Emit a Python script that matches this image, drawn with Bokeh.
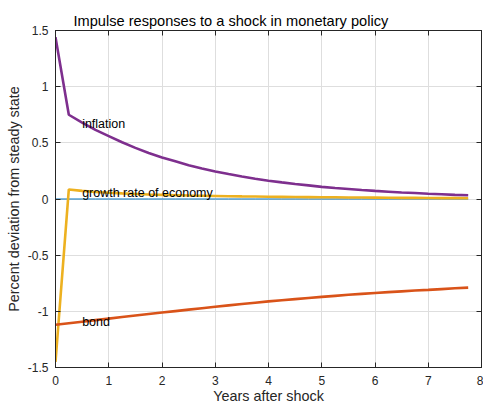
from bokeh.plotting import figure
from bokeh.models import Range1d, FixedTicker, LinearAxis, Label
from bokeh.embed import file_html
from bokeh.resources import INLINE

years = [0.0, 0.25, 0.5, 0.75, 1.0, 1.25, 1.5, 1.75, 2.0, 2.25, 2.5, 2.75,
         3.0, 3.25, 3.5, 3.75, 4.0, 4.25, 4.5, 4.75, 5.0, 5.25, 5.5, 5.75,
         6.0, 6.25, 6.5, 6.75, 7.0, 7.25, 7.5, 7.75]

inflation = [1.44, 0.75, 0.68, 0.615, 0.56, 0.505, 0.455, 0.41, 0.37, 0.335,
             0.30, 0.272, 0.245, 0.222, 0.20, 0.18, 0.163, 0.148, 0.134, 0.121,
             0.108, 0.098, 0.089, 0.080, 0.072, 0.065, 0.058, 0.053, 0.047,
             0.042, 0.037, 0.033]

growth = [-1.45, 0.085, 0.072, 0.063, 0.056, 0.050, 0.045, 0.040, 0.037, 0.034,
          0.031, 0.029, 0.027, 0.025, 0.023, 0.022, 0.020, 0.019, 0.018, 0.017,
          0.016, 0.015, 0.014, 0.013, 0.012, 0.011, 0.010, 0.010, 0.009, 0.008,
          0.008, 0.007]

bond = [-1.120, -1.106, -1.092, -1.078, -1.065, -1.051, -1.037, -1.024, -1.011,
        -0.998, -0.985, -0.972, -0.959, -0.947, -0.935, -0.923, -0.911, -0.901,
        -0.891, -0.881, -0.871, -0.862, -0.853, -0.845, -0.837, -0.829, -0.822,
        -0.815, -0.809, -0.802, -0.795, -0.789]

steady_state = [0.0] * len(years)

series_names = ["inflation", "growth rate of economy", "bond"]
x_ticks = [0, 1, 2, 3, 4, 5, 6, 7, 8]
y_ticks = [-1.5, -1, -0.5, 0, 0.5, 1, 1.5]
y_tick_labels = ["-1.5", "-1", "-0.5", "0", "0.5", "1", "1.5"]

FONT = "Liberation Sans"
AX = "#262626"

p = figure(width=483, height=407, output_backend="svg", toolbar_location=None,
           x_range=Range1d(0, 8), y_range=Range1d(-1.5, 1.5),
           min_border_left=55, min_border_right=2, min_border_top=30,
           min_border_bottom=40)

p.title.text = "Impulse responses to a shock in monetary policy"
p.title.text_font = FONT
p.title.text_font_size = "14.6px"
p.title.text_font_style = "normal"
p.title.text_color = "#000000"
p.title.align = "left"
p.title.offset = 18
p.title.standoff = 3

p.outline_line_color = AX
p.outline_line_width = 1
p.background_fill_color = "white"
p.border_fill_color = "white"

for ax in (p.xaxis[0], p.yaxis[0]):
    ax.major_tick_in = 5
    ax.major_tick_out = 0
    ax.minor_tick_line_color = None
    ax.axis_line_color = AX
    ax.major_tick_line_color = AX
    ax.major_label_text_font = FONT
    ax.major_label_text_font_size = "12px"
    ax.major_label_text_color = AX
    ax.axis_label_text_font = FONT
    ax.axis_label_text_font_size = "14.4px"
    ax.axis_label_text_font_style = "normal"
    ax.axis_label_text_color = AX

p.xaxis[0].ticker = FixedTicker(ticks=x_ticks)
p.yaxis[0].ticker = FixedTicker(ticks=y_ticks)
p.yaxis[0].major_label_overrides = {t: s for t, s in zip(y_ticks, y_tick_labels)}
p.xaxis[0].axis_label = "Years after shock"
p.yaxis[0].axis_label = "Percent deviation from steady state"
p.xaxis[0].major_label_standoff = 8
p.xaxis[0].axis_label_standoff = 0
p.yaxis[0].major_label_standoff = 7
p.yaxis[0].axis_label_standoff = 3

blank_x = {t: "" for t in x_ticks}
blank_y = {t: "" for t in y_ticks}
top = LinearAxis(ticker=FixedTicker(ticks=x_ticks), major_tick_in=5, major_tick_out=0,
                 minor_tick_line_color=None, axis_line_color=AX, major_tick_line_color=AX,
                 major_label_overrides=blank_x, major_label_text_font_size="1px",
                 major_label_standoff=0)
right = LinearAxis(ticker=FixedTicker(ticks=y_ticks), major_tick_in=5, major_tick_out=0,
                   minor_tick_line_color=None, axis_line_color=AX, major_tick_line_color=AX,
                   major_label_overrides=blank_y, major_label_text_font_size="1px",
                   major_label_standoff=0)
p.add_layout(top, "above")
p.add_layout(right, "right")

p.xgrid.ticker = FixedTicker(ticks=x_ticks)
p.ygrid.ticker = FixedTicker(ticks=y_ticks)
p.grid.grid_line_color = "#dedede"
p.grid.grid_line_width = 1

p.line(years, steady_state, line_color="#0072BD", line_width=1)
p.line(years, inflation, line_color="#7E2F8E", line_width=2.6)
p.line(years, growth, line_color="#EDB120", line_width=2.6)
p.line(years, bond, line_color="#D95319", line_width=2.6)

label_x = 0.5
label_y = [0.667, 0.056, -1.095]
for name, ly in zip(series_names, label_y):
    p.add_layout(Label(x=label_x, y=ly, text=name, text_font=FONT,
                       text_font_size="12.5px", text_color="#000000",
                       text_baseline="middle", text_align="left"))

open("out.html", "w").write(file_html(p, INLINE))
